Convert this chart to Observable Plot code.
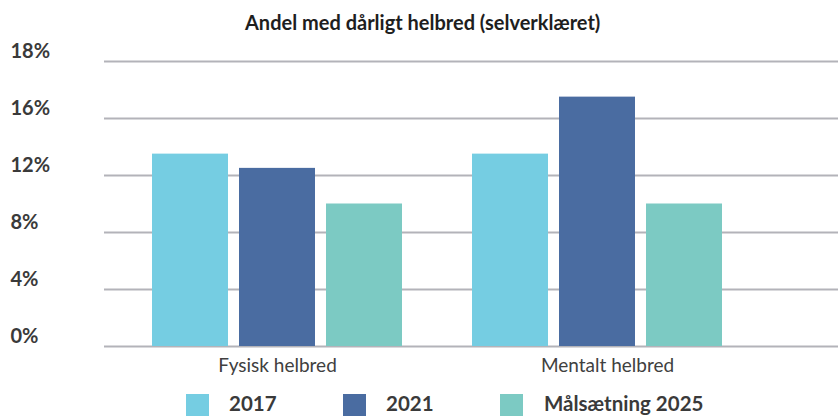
<!DOCTYPE html>
<html><head><meta charset="utf-8">
<script src="https://cdn.jsdelivr.net/npm/d3@7"></script>
<script src="https://cdn.jsdelivr.net/npm/@observablehq/plot@0.6"></script>
<style>
body{margin:0;background:#fff;width:838px;height:416px;overflow:hidden;position:relative;font-family:Lato,"Open Sans",sans-serif}
#chart{position:absolute;left:0;top:0}
#title{position:absolute;left:245px;top:11px;font-size:20px;font-weight:bold;color:#1e1e1e;white-space:nowrap;line-height:22px}
.lg{position:absolute;top:394px;white-space:nowrap}
.sw{position:absolute;width:23px;height:22px;top:0}
.lt{position:absolute;top:0;font-size:20.5px;line-height:18px;font-weight:bold;color:#3a3a3a}
</style></head><body>
<div id="chart"></div>
<div id="title"></div>
<div id="legend"></div>
<script>
const chartTitle = "Andel med dårligt helbred (selverklæret)";
const categories = ["Fysisk helbred", "Mentalt helbred"];
const seriesNames = ["2017", "2021", "Målsætning 2025"];
const values2017 = [13.5, 13.5];
const values2021 = [12.5, 17.5];
const valuesGoal = [10, 10];
const yTicks = [0, 4, 8, 12, 16, 20];
const yTickLabels = ["0%", "4%", "8%", "12%", "16%", "18%"];
const colors = ["#75cde2", "#4a6ca1", "#7ccac3"];

const seriesValues = [values2017, values2021, valuesGoal];
const data = [];
seriesNames.forEach((s, si) => categories.forEach((c, ci) => data.push({series: s, category: c, value: seriesValues[si][ci], si})));

const barMarks = seriesNames.map((s, i) => Plot.barY(data.filter(d => d.series === s), {
  x: "category", y: "value", fill: "series",
  insetLeft: 35 + 87 * i, insetRight: 209 - 87 * i
}));

const xAxisOpts = {tickSize: 0, tickPadding: 12, fontSize: 19, fill: "#404040", label: null};

const chart = Plot.plot({
  width: 838, height: 416,
  marginTop: 61, marginBottom: 70, marginLeft: 104, marginRight: 0,
  style: {fontFamily: "Lato, 'Open Sans', sans-serif", background: "#fff"},
  x: {type: "band", domain: categories, range: [117, 757], padding: 0, label: null},
  y: {domain: [0, 20], label: null},
  color: {domain: seriesNames, range: colors},
  marks: [
    Plot.ruleY(yTicks, {stroke: "#b3b3b9", strokeWidth: 2}),
    ...barMarks,
    Plot.axisY({ticks: yTicks, tickFormat: d => yTickLabels[yTicks.indexOf(d)], tickSize: 0, tickPadding: 94,
      textAnchor: "start", dy: -10, fontSize: 20, fontWeight: "bold", fill: "#3a3a3a", label: null}),
    Plot.axisX({...xAxisOpts, ticks: [categories[0]]}),
    Plot.axisX({...xAxisOpts, ticks: [categories[1]], dx: 10})
  ]
});
document.getElementById("chart").appendChild(chart);
document.getElementById("title").textContent = chartTitle;

const legendX = [186, 343, 500];
const leg = document.getElementById("legend");
seriesNames.forEach((s, i) => {
  const g = document.createElement("div");
  g.className = "lg"; g.style.left = legendX[i] + "px";
  g.innerHTML = `<div class="sw" style="background:${colors[i]}"></div><div class="lt" style="left:${i === 2 ? 44 : 43}px">${s}</div>`;
  leg.appendChild(g);
});
</script>
</body></html>
